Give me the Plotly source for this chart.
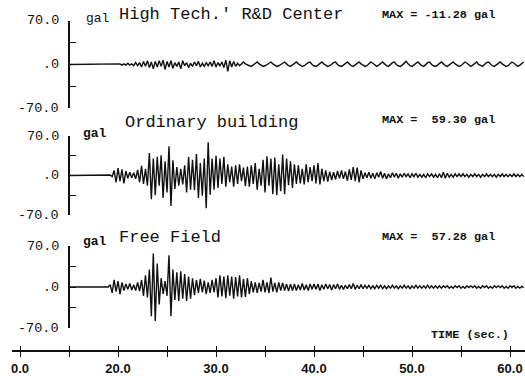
import plotly.graph_objects as go

# ---------------- data ----------------
RECORD_START = 15.0   # s, traces begin at the y axis
TIME_START = 19.0     # s, first read sample
DT = 0.2              # s, reading step along the time axis

# acceleration in gal, one row per second (5 readings)
HIGH_TECH = [
    0, 0, 0, 0, 0,
    0, 1, -1, 1, -1,
    2, -1, 1, -2, 3,
    -2, 3, -4, 5, -3,
    6, -5, 4, -7, 5,
    -4, 6, -3, 7, -8,
    5, -4, 6, -6, 3,
    -3, 4, -7, 6, -2,
    3, -5, 2, -3, 4,
    -2, 5, -4, 2, -3,
    3, -2, 4, -3, 6,
    -4, 3, -2, 4, -5,
    7, -11, 6, -4, 5,
    -3, 2, -2, 1, 4,
    1, -1, -2, -3, -1,
    1, 4, 1, -1, -3,
    -2, 0, 2, 4, 1,
    -1, -3, -2, 0, 3,
    4, 1, -2, -3, -1,
    2, 4, 1, -1, -3,
    -2, 1, 3, 4, 0,
    -2, -3, -1, 2, 4,
    1, -1, -3, -2, 1,
    3, 4, 0, -2, -3,
    -1, 2, 4, 1, -2,
    -3, -1, 2, 4, 1,
    -1, -3, -2, 1, 4,
    2, -1, -3, -1, 2,
    4, 1, -2, -3, 0,
    3, 4, 0, -2, -3,
    -1, 2, 5, 1, -2,
    -3, -1, 2, 4, 1,
    -2, -3, 0, 3, 4,
    0, -2, -3, -1, 2,
    4, 1, -2, -3, -1,
    2, 4, 1, -1, -3,
    -2, 1, 4, 2, -1,
    -3, -1, 2, 4, 0,
    -2, -3, 0, 3, 4,
    1, -2, -3, -1, 2,
    4, 1, -1, -3, -2,
    1, 4, 2, -1, -3,
    -1, 2, 4,
]

ORDINARY = [
    0, 1, -2, 9, -12,
    13, -10, 11, -14, 8,
    -5, 6, -4, 5, -6,
    10, -12, 17, -15, 12,
    -18, 40, -42, 30, -35,
    33, -18, 36, -40, 25,
    -30, 52, -54, 27, -24,
    15, -18, 12, -16, 18,
    -30, 33, -25, 28, -26,
    38, -40, 22, -36, 30,
    -58, 59, -34, 30, -25,
    35, -22, 30, -15, 33,
    -20, 20, -12, 16, -20,
    18, -15, 20, -10, 14,
    -19, 16, -20, 18, -15,
    22, -25, 12, -18, 28,
    -30, 34, -18, 30, -33,
    32, -35, 20, -28, 37,
    -33, 30, -17, 25, -22,
    20, -15, 18, -14, 12,
    -16, 20, -12, 15, -10,
    18, -14, 22, -16, 12,
    -10, 9, -11, 7, -8,
    6, -7, 8, -5, 9,
    -6, 7, -9, 11, -8,
    15, -10, 14, -12, 9,
    -6, 5, -4, 6, -5,
    4, -6, 5, -3, 7,
    -5, 4, -6, 3, -4,
    5, -3, 4, -5, 3,
    -3, 4, -2, 3, -4,
    3, -2, 4, -3, 2,
    -3, 2, -4, 3, -2,
    3, -3, 2, -4, 3,
    -4, 6, -5, 4, -3,
    2, -3, 3, -2, 3,
    -2, 3, -2, 2, -3,
    2, -2, 3, -2, 2,
    -3, 2, -2, 3, -2,
    2, -2, 2, -3, 2,
    -2, 3, -2, 2, -2,
    2, -2, 3, -2, 2,
    -2, 2, -2,
]

FREE_FIELD = [
    0, 4, -10, 12, -8,
    10, -12, 8, -6, 5,
    -4, 6, -5, 4, -6,
    8, -7, 12, -15, 20,
    -18, 30, -50, 57, -58,
    40, -30, 15, -12, 10,
    -15, 54, -50, 30, -22,
    25, -24, 27, -20, 22,
    -24, 18, -20, 15, -14,
    12, -10, 14, -9, 11,
    -12, 8, -10, 12, -9,
    15, -18, 20, -16, 18,
    -19, 20, -15, 18, -20,
    17, -16, 20, -18, 14,
    -17, 15, -12, 10, -9,
    8, -10, 7, -8, 12,
    -9, 8, -10, 16, -8,
    7, -9, 8, -6, 7,
    -6, 5, -7, 5, -6,
    5, -6, 4, -5, 6,
    -5, 4, -6, 5, -4,
    5, -4, 5, -6, 4,
    -4, 5, -3, 4, -5,
    4, -3, 5, -4, 3,
    -4, 3, -3, 4, -3,
    6, -4, 3, -3, 4,
    -3, 3, -2, 3, -3,
    2, -3, 3, -2, 3,
    -3, 2, -3, 2, -2,
    3, -2, 2, -3, 2,
    -2, 3, -2, 2, -3,
    2, -2, 3, -2, 2,
    -2, 2, -2, 3, -2,
    2, -2, 2, -2, 2,
    -2, 2, -1, 2, -2,
    1, -2, 2, -1, 2,
    -2, 1, -2, 2, -1,
    2, -1, 2, -2, 1,
    -2, 2, -1, 2, -2,
    1, -2, 2, -1, 2,
    -1, 2, -2, 1, -2,
    2, -1, 2, -2, 1,
    -2, 1, -1,
]

PANEL_SERIES = [HIGH_TECH, ORDINARY, FREE_FIELD]
PANEL_TITLES = ["High Tech.' R&D Center", "Ordinary building", "Free Field"]
MAX_LABELS = ["MAX = -11.28 gal", "MAX =  59.30 gal", "MAX =  57.28 gal"]
UNIT_LABEL = "gal"
Y_TICK_VALUES = [-70, 0, 70]
Y_TICK_TEXT = ["-70.0", ".0", "70.0"]
Y_MINOR_TICKS = [-35, 35]
TIME_TICK_VALUES = [10, 15, 20, 25, 30, 35, 40, 45, 50, 55, 60]
TIME_TICK_TEXT = ["0.0", "", "20.0", "", "30.0", "", "40.0", "", "50.0", "", "60.0"]
TIME_LABEL = "TIME (sec.)"

# ---------------- layout geometry ----------------
W, H = 525, 376
X_RANGE = [9.18, 61.53]
X_DOMAIN = [12 / W, 1.0]
Y_AXIS_POS = 69 / W
Y_LABEL_RIGHT = 61 / W
TIME_AXIS_POS = 1 - 351 / H
PANEL_PX = [(21, 108), (136, 215), (246, 328)]   # (top, bottom) pixel rows
TITLE_PX = [(117, 14), (123, 122), (117, 237)]
UNIT_PX = [(84, 19), (81, 133), (81, 242)]
MAX_PX_Y = [15, 120, 237]
MAX_PX_X = 380

MONO = "Liberation Mono, Courier New, monospace"
INK = "#111111"

fig = go.Figure()

for i, vals in enumerate(PANEL_SERIES):
    times = [RECORD_START] + [TIME_START + DT * k for k in range(len(vals))]
    values = [0] + list(vals)
    sfx = "" if i == 0 else str(i + 1)
    fig.add_trace(go.Scatter(
        x=times, y=values, mode="lines",
        line=dict(color=INK, width=1.4),
        xaxis="x" + sfx, yaxis="y" + sfx,
        showlegend=False, hoverinfo="skip",
    ))

# empty trace to carry the upward half of the crossing time ticks
fig.add_trace(go.Scatter(x=[], y=[], xaxis="x4", yaxis="y3",
                         showlegend=False, hoverinfo="skip"))

layout = dict(
    width=W, height=H, autosize=False,
    margin=dict(l=0, r=0, t=0, b=0, autoexpand=False),
    paper_bgcolor="white", plot_bgcolor="rgba(0,0,0,0)",
    showlegend=False,
)

annotations = []
for i, (top, bot) in enumerate(PANEL_PX):
    sfx = "" if i == 0 else str(i + 1)
    layout["yaxis" + sfx] = dict(
        domain=[1 - bot / H, 1 - top / H],
        range=[-70, 70], anchor="free", position=Y_AXIS_POS,
        showline=True, linecolor=INK, linewidth=1.6,
        ticks="inside", ticklen=6, tickwidth=1.4, tickcolor=INK,
        tickvals=Y_TICK_VALUES, showticklabels=False,
        minor=dict(tickvals=Y_MINOR_TICKS, ticks="inside", ticklen=6,
                   tickwidth=1.4, tickcolor=INK, showgrid=False),
        showgrid=False, zeroline=False, fixedrange=True, automargin=False,
    )
    if i < 2:
        layout["xaxis" + sfx] = dict(
            domain=X_DOMAIN, range=X_RANGE, anchor="y" + sfx,
            visible=False, fixedrange=True, automargin=False,
        )
    for v, t in zip(Y_TICK_VALUES, Y_TICK_TEXT):
        annotations.append(dict(
            text=t, xref="paper", yref="y" + sfx,
            x=Y_LABEL_RIGHT, y=v, xanchor="right", yanchor="middle",
            showarrow=False, font=dict(family=MONO, size=13.5, color=INK),
        ))

layout["xaxis3"] = dict(
    domain=X_DOMAIN, range=X_RANGE, anchor="free", position=TIME_AXIS_POS,
    showline=True, linecolor=INK, linewidth=1.8,
    ticks="outside", ticklen=5, tickwidth=1.4, tickcolor=INK,
    tickvals=TIME_TICK_VALUES, ticktext=TIME_TICK_TEXT,
    tickfont=dict(family="Liberation Sans, Arial, sans-serif", size=13,
                  color=INK, weight="bold"),
    showgrid=False, zeroline=False, fixedrange=True, automargin=False,
)
layout["xaxis4"] = dict(
    domain=X_DOMAIN, range=X_RANGE, anchor="free", position=TIME_AXIS_POS,
    overlaying="x3", side="top", showline=False,
    ticks="outside", ticklen=5, tickwidth=1.4, tickcolor=INK,
    tickvals=TIME_TICK_VALUES, showticklabels=False,
    showgrid=False, zeroline=False, fixedrange=True, automargin=False,
)

for i in range(3):
    tx, ty = TITLE_PX[i]
    annotations.append(dict(
        text=PANEL_TITLES[i], xref="paper", yref="paper",
        x=tx / W, y=1 - ty / H, xanchor="left", yanchor="middle",
        showarrow=False, font=dict(family=MONO, size=17, color=INK),
    ))
    ux, uy = UNIT_PX[i]
    annotations.append(dict(
        text=UNIT_LABEL, xref="paper", yref="paper",
        x=ux / W, y=1 - uy / H, xanchor="left", yanchor="middle",
        showarrow=False,
        font=dict(family=MONO, size=13, color=INK,
                  weight="normal" if i == 0 else "bold"),
    ))
    annotations.append(dict(
        text=MAX_LABELS[i], xref="paper", yref="paper",
        x=MAX_PX_X / W, y=1 - MAX_PX_Y[i] / H, xanchor="left", yanchor="middle",
        showarrow=False,
        font=dict(family=MONO, size=11.8, color=INK, weight="bold"),
    ))
annotations.append(dict(
    text=TIME_LABEL, xref="paper", yref="paper",
    x=429 / W, y=1 - 335 / H, xanchor="left", yanchor="middle",
    showarrow=False,
    font=dict(family=MONO, size=11.8, color=INK, weight="bold"),
))
layout["annotations"] = annotations

fig.update_layout(**layout)
fig.write_html(
    "out.html",
    config={"displayModeBar": False},
    post_script="document.body.style.margin='0';document.body.style.padding='0';",
)
